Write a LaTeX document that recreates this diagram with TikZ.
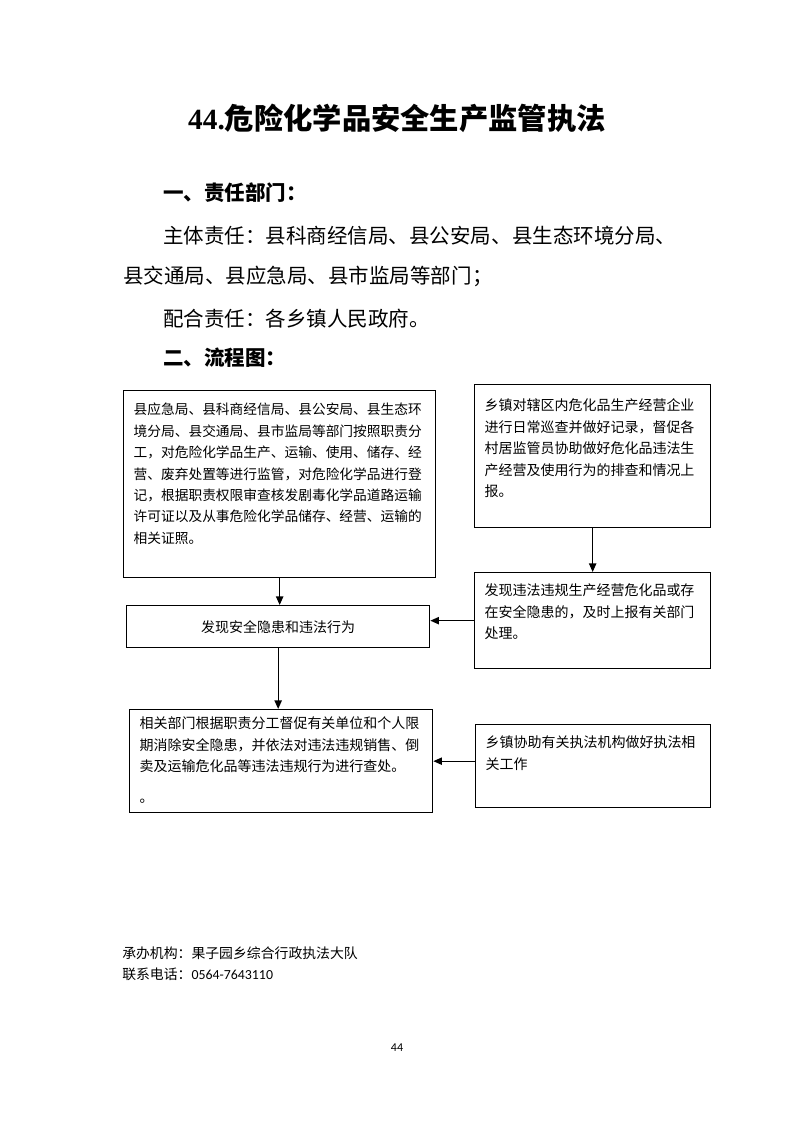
\documentclass[tikz,border=0pt]{standalone}
\usepackage{fontspec}
\setmainfont{Liberation Serif}
\newfontfamily\cjk{Noto Sans CJK SC}
\newfontfamily\latinsans{Carlito}
\usetikzlibrary{arrows.meta}
\newdimen\pxu
\pxu=0.7507pt

\begin{document}
\begin{tikzpicture}[
  x=0.7507pt, y=-0.7507pt,
  >={Triangle[length=6.5pt, width=5.5pt]},
  box/.style={draw, line width=1pt, inner sep=0pt},
  notebox/.style={box, anchor=north west, align=left, inner xsep=10\pxu, font=\cjk\fontsize{10.5}{16.1}\selectfont},
  stepbox/.style={box, anchor=north west, align=center, font=\cjk\fontsize{10.5}{12}\selectfont},
  heading/.style={anchor=west, inner sep=0pt, font=\cjk\bfseries\fontsize{15.4}{18}\selectfont},
  bodyline/.style={anchor=west, inner sep=0pt, font=\cjk\fontsize{15.4}{18}\selectfont},
  footline/.style={anchor=west, inner sep=0pt, font=\cjk\fontsize{10.4}{12}\selectfont},
  arrow/.style={->, line width=1pt}
]
\useasboundingbox (0,0) rectangle (793,1122);

\node[inner sep=0pt, font=\bfseries\fontsize{22}{26}\selectfont] (title) at (397,118) {44.{\cjk 危险化学品安全生产监管执法}};

\node[heading] (dutyhead) at (163,193) {一、责任部门：};
\node[bodyline] (mainduty) at (163,236) {主体责任：县科商经信局、县公安局、县生态环境分局、};
\node[bodyline] (mainduty2) at (123,276) {县交通局、县应急局、县市监局等部门；};
\node[bodyline] (assistduty) at (163,319) {配合责任：各乡镇人民政府。};
\node[heading] (flowhead) at (163,358) {二、流程图：};

\node[notebox, font=\cjk\fontsize{10.3}{16.1}\selectfont, text width=292\pxu, text height=24\pxu, text depth=163\pxu] (regbox) at (123,390) {县应急局、县科商经信局、县公安局、县生态环\\境分局、县交通局、县市监局等部门按照职责分\\工，对危险化学品生产、运输、使用、储存、经\\营、废弃处置等进行监管，对危险化学品进行登\\记，根据职责权限审查核发剧毒化学品道路运输\\许可证以及从事危险化学品储存、经营、运输的\\相关证照。};
\node[notebox, text width=216\pxu, text height=26\pxu, text depth=117\pxu] (patrolbox) at (474,384) {乡镇对辖区内危化品生产经营企业\\进行日常巡查并做好记录，督促各\\村居监管员协助做好危化品违法生\\产经营及使用行为的排查和情况上\\报。};
\node[notebox, text width=216\pxu, text height=23\pxu, text depth=73\pxu] (reportbox) at (474,572) {发现违法违规生产经营危化品或存\\在安全隐患的，及时上报有关部门\\处理。};
\node[stepbox, minimum width=303\pxu, minimum height=42\pxu] (findbox) at (126,605) {发现安全隐患和违法行为};
\node[notebox, text width=283\pxu, text height=19\pxu, text depth=84\pxu] (handlebox) at (129,709) {相关部门根据职责分工督促有关单位和个人限\\期消除安全隐患，并依法对违法违规销售、倒\\卖及运输危化品等违法违规行为进行查处。\\[7pt]。};
\node[notebox, text width=215\pxu, text height=23\pxu, text depth=60\pxu] (assistbox) at (475,724) {乡镇协助有关执法机构做好执法相\\关工作};

\draw[arrow] (regbox.south) -- (regbox.south |- findbox.north);
\draw[arrow] (patrolbox.south) -- (reportbox.north);
\draw[arrow] (reportbox.west) -- (reportbox.west -| findbox.east);
\draw[arrow] (findbox.south) -- (findbox.south |- handlebox.north);
\draw[arrow] (handlebox.east -| assistbox.west) -- (handlebox.east);

\node[footline] (office) at (122,953) {承办机构：果子园乡综合行政执法大队};
\node[footline] (phone) at (122,974) {联系电话：{\latinsans 0564-7643110}};
\node[font=\latinsans\fontsize{9}{10}\selectfont] (pagenum) at (397,1048) {44};
\end{tikzpicture}
\end{document}
